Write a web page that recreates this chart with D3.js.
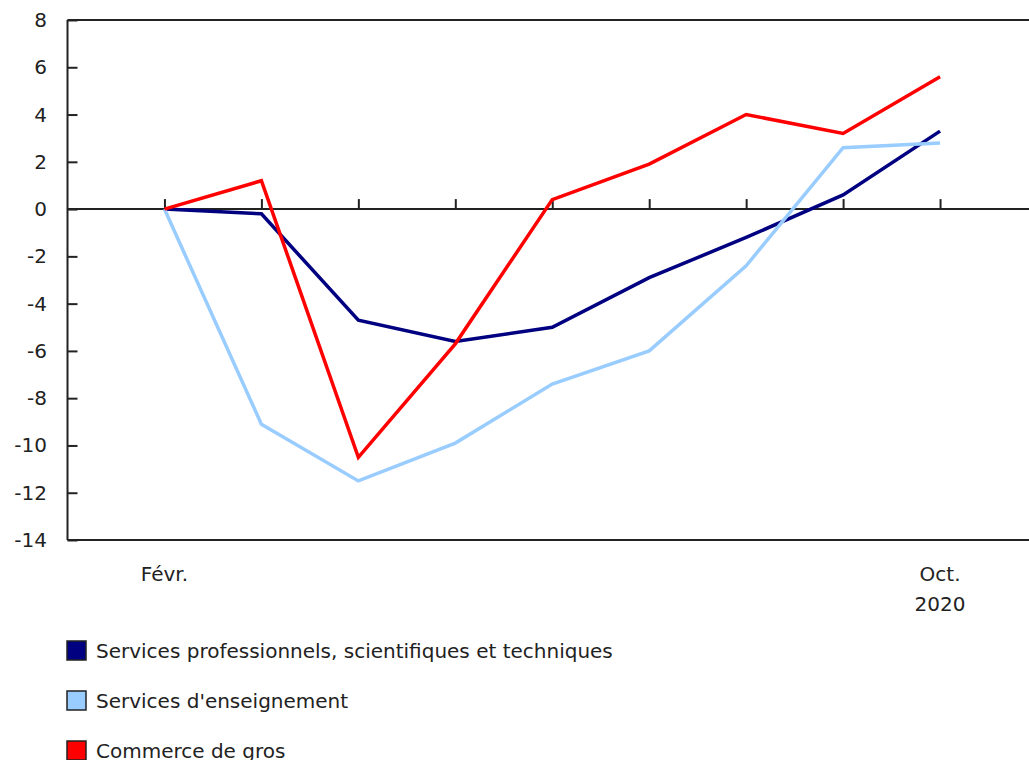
<!DOCTYPE html>
<html><head><meta charset="utf-8">
<script src="https://cdn.jsdelivr.net/npm/d3@7"></script>
<style>body{margin:0;background:#fff}svg{display:block}</style>
</head><body>
<script>
const months = ["Févr.","Mars","Avr.","Mai","Juin","Juil.","Août","Sept.","Oct."];
const monthLabels = ["Févr.","","","","","","","","Oct."];
const yearLabel = "2020";
const seriesNames = ["Services professionnels, scientifiques et techniques","Services d'enseignement","Commerce de gros"];
const proValues = [0,-0.2,-4.7,-5.6,-5.0,-2.9,-1.2,0.6,3.3];
const eduValues = [0,-9.1,-11.5,-9.9,-7.4,-6.0,-2.4,2.6,2.8];
const wholesaleValues = [0,1.2,-10.5,-5.7,0.4,1.9,4.0,3.2,5.6];
const yTicks = [8,6,4,2,0,-2,-4,-6,-8,-10,-12,-14];
const colors = ["#000080","#99ccff","#ff0000"];

(function(){
const W=1029,H=760;
const svg=d3.select("body").append("svg").attr("width",W).attr("height",H)
 .attr("font-family","'DejaVu Sans', Verdana, sans-serif").attr("font-size",20);
const mL=67.5, mR=1029, mT=20, mB=540;
const x=d3.scalePoint().domain(months).range([mL,mR+8]).padding(1);
const y=d3.scaleLinear().domain([-14,8]).range([mB,mT]);
const ink="#222";

svg.append("line").attr("x1",mL).attr("x2",mR).attr("y1",mT).attr("y2",mT).attr("stroke",ink).attr("stroke-width",2);
svg.append("line").attr("x1",mL).attr("x2",mR).attr("y1",mB).attr("y2",mB).attr("stroke",ink).attr("stroke-width",2);

const ya=svg.append("g").attr("transform",`translate(${mL},0)`)
 .call(d3.axisRight(y).tickValues(yTicks).tickSize(10).tickFormat(""));
ya.select(".domain").attr("stroke",ink).attr("stroke-width",2).attr("d",`M0,${mT}V${mB}`);
ya.selectAll(".tick line").attr("stroke",ink).attr("stroke-width",2);
svg.append("g").selectAll("text").data(yTicks).join("text")
 .attr("x",47).attr("y",d=>y(d)).attr("dy","0.35em").attr("text-anchor","end").attr("fill",ink).text(d=>d);

const xa=svg.append("g").attr("transform",`translate(0,${y(0)})`)
 .call(d3.axisTop(x).tickSize(10).tickFormat(""));
xa.select(".domain").attr("stroke",ink).attr("stroke-width",2).attr("d",`M${mL},0H${mR}`);
xa.selectAll(".tick line").attr("stroke",ink).attr("stroke-width",2);

svg.append("g").selectAll("text").data(months).join("text")
 .attr("x",d=>x(d)).attr("y",581).attr("text-anchor","middle").attr("fill",ink).text((d,i)=>monthLabels[i]);
svg.append("text").attr("x",x(months[8])).attr("y",611).attr("text-anchor","middle").attr("fill",ink).text(yearLabel);

const line=d3.line().x((d,i)=>x(months[i])).y(d=>y(d));
[proValues,eduValues,wholesaleValues].forEach((vals,k)=>{
 svg.append("path").datum(vals).attr("d",line).attr("fill","none").attr("stroke",colors[k]).attr("stroke-width",3.5);
});

const lg=svg.append("g").selectAll("g").data(seriesNames).join("g").attr("transform",(d,i)=>`translate(0,${i*50})`);
lg.append("rect").attr("x",67).attr("y",641).attr("width",19).attr("height",19).attr("fill",(d,i)=>colors[i]).attr("stroke",ink).attr("stroke-width",1.5);
lg.append("text").attr("x",96).attr("y",658).attr("fill",ink).text(d=>d);
})();
</script>
</body></html>
